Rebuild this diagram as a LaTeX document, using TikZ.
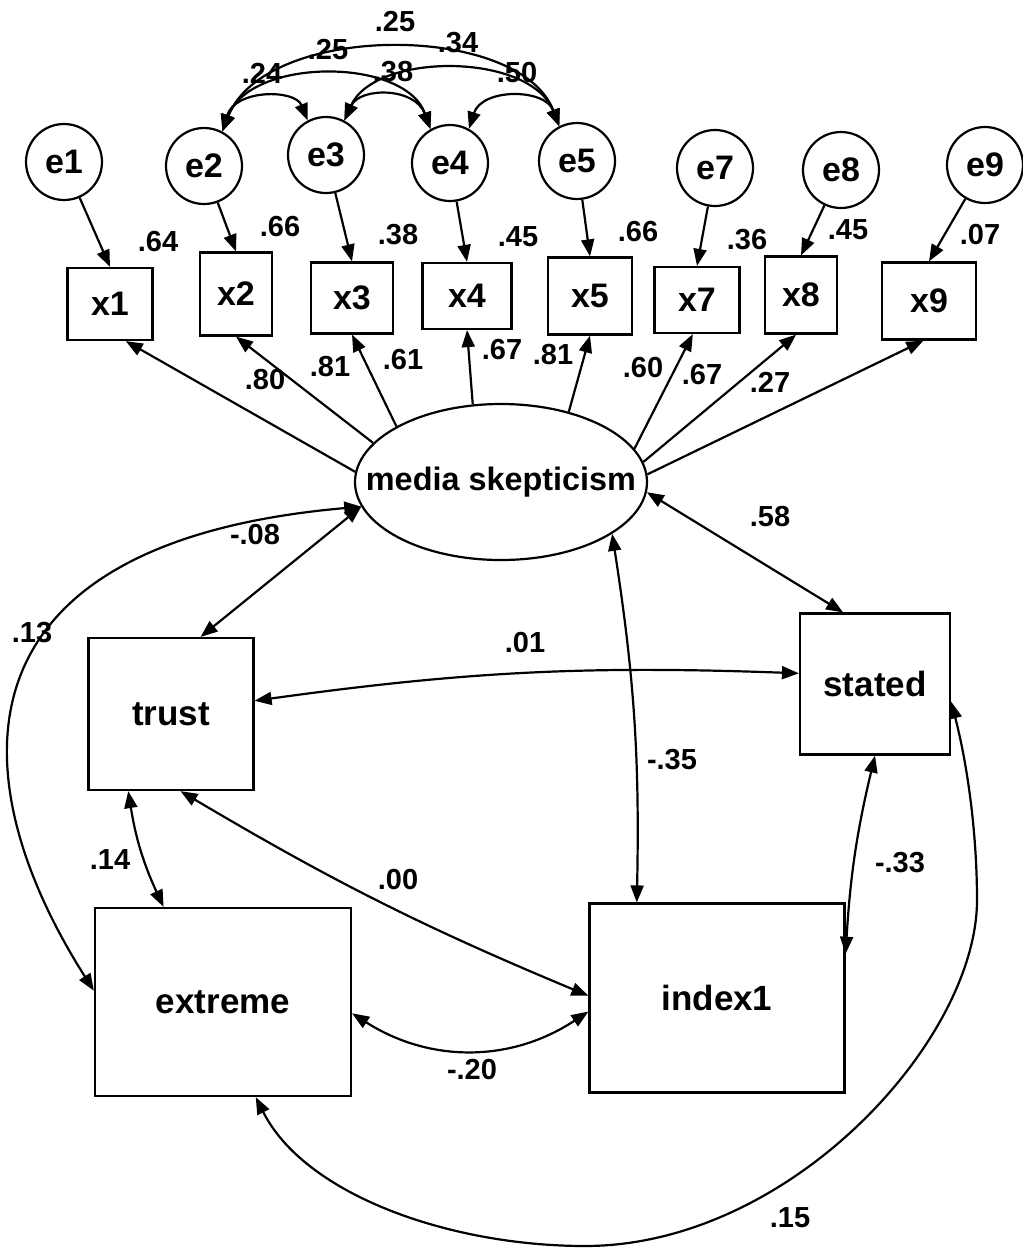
\documentclass[tikz,border=0pt]{standalone}
\usepackage{fontspec}
\setmainfont{Liberation Sans}
\usetikzlibrary{arrows.meta,shapes.geometric}
\begin{document}
\begin{tikzpicture}[x=0.5pt,y=-0.5pt, line width=1.1pt,
  >={Triangle[length=8.5pt,width=6.5pt]},
  err/.style={circle,draw,minimum size=38pt,inner sep=0pt,font=\fontsize{17}{19}\selectfont\bfseries},
  obs/.style={rectangle,draw,inner sep=0pt,font=\fontsize{17}{19}\selectfont\bfseries},
  bigbox/.style={rectangle,draw,inner sep=0pt,font=\fontsize{17.5}{20}\selectfont\bfseries},
  num/.style={inner sep=0pt,font=\fontsize{14.5}{16}\selectfont\bfseries},
  lat/.style={ellipse,draw,inner sep=0pt,minimum width=146pt,minimum height=78pt}]
\useasboundingbox[fill=white] (0,0) rectangle (1023,1249);

% error terms
\node[err] (e1) at (64,162) {e1};
\node[err] (e2) at (204,166) {e2};
\node[err] (e3) at (326,155) {e3};
\node[err] (e4) at (450,163) {e4};
\node[err] (e5) at (577,161) {e5};
\node[err] (e7) at (715,168) {e7};
\node[err] (e8) at (841,170) {e8};
\node[err] (e9) at (985,165) {e9};

% indicators
\node[obs,minimum width=42.5pt,minimum height=36pt] (x1) at (110,304) {x1};
\node[obs,minimum width=36pt,minimum height=41.5pt] (x2) at (236,294) {x2};
\node[obs,minimum width=41pt,minimum height=35.5pt] (x3) at (352,298) {x3};
\node[obs,minimum width=44.5pt,minimum height=33pt] (x4) at (467,296) {x4};
\node[obs,minimum width=42pt,minimum height=38.5pt] (x5) at (590,296) {x5};
\node[obs,minimum width=42.5pt,minimum height=33pt] (x7) at (697,300) {x7};
\node[obs,minimum width=36pt,minimum height=38.5pt] (x8) at (801,295) {x8};
\node[obs,minimum width=47pt,minimum height=38.5pt] (x9) at (929,301) {x9};

% latent
\node[lat,label={[inner sep=0pt,font=\fontsize{16.2}{18}\selectfont\bfseries]center:media skepticism}] (ms) at (501,482) {};

% observed
\node[bigbox,minimum width=82.5pt,minimum height=76pt] (trust) at (171,714) {trust};
\node[bigbox,minimum width=75pt,minimum height=70.5pt] (stated) at (875,684) {stated};
\node[bigbox,minimum width=128pt,minimum height=94pt] (extreme) at (223,1002) {extreme};
\node[bigbox,minimum width=127.5pt,minimum height=94.5pt] (index1) at (717,998) {index1};

% error paths
\draw[->] (e1) -- (x1.north);
\draw[->] (e2) -- (x2.north);
\draw[->] (e3) -- (x3.north);
\draw[->] (e4) -- (x4.north);
\draw[->] (e5) -- (x5.north);
\draw[->] (e7) -- (x7.north);
\draw[->] (e8) -- (x8.north);
\draw[->] (e9) -- (x9.north);

% error covariances
\draw[<->] (e2.62) .. controls (235,89) and (295,89) .. (e3.118);
\draw[<->] (e2.62) .. controls (250,57) and (405,57) .. (e4.120);
\draw[<->] (e2.62) .. controls (265,22) and (520,22) .. (e5.117);
\draw[<->] (e3.62) .. controls (360,87) and (415,87) .. (e4.120);
\draw[<->] (e3.62) .. controls (375,52) and (530,52) .. (e5.117);
\draw[<->] (e4.61) .. controls (482,88) and (545,88) .. (e5.117);

% loadings
\draw[->] (ms.176) -- (x1.-67);
\draw[->] (ms.163) -- (x2.south);
\draw[->] (ms.152) -- (x3.south);
\draw[->] (ms.110) -- (x4.south);
\draw[->] (ms.46) -- (x5.south);
\draw[->] (ms.14) -- (x7.-97);
\draw[->] (ms.8) -- (x8.-97);
\draw[->] (ms.3) -- (x9.-98);

% structural covariances
\draw[<->] (ms.190) -- (trust.69);
\draw[<->] (ms.190) .. controls (-55,543) and (-40,780) .. (extreme.175);
\draw[<->] (ms.-25) to[bend left=5] (index1.130);
\draw[<->] (ms.-4) -- (stated.114);
\draw[<->] (trust.9) to[bend left=5] (stated.172);
\draw[<->] (trust.-83) to[bend right=4] (index1.179);
\draw[<->] (trust.-119) to[bend right=8] (extreme.122);
\draw[<->] (extreme.-5) to[bend right=33] (index1.186);
\draw[<->] (stated.south) to[bend right=5] (index1.19);
\draw[<->] (stated.-13) .. controls (968,767) and (977,835) .. (977,900)
   .. controls (977,1040) and (790,1246) .. (585,1246)
   .. controls (450,1246) and (305,1195) .. (extreme.-71);

% covariance labels (errors)
\node[num] (c25a) at (395,22) {.25};
\node[num] (c25b) at (328,50) {.25};
\node[num] (c34) at (458,43) {.34};
\node[num] (c24) at (262,73) {.24};
\node[num] (c38) at (393,72) {.38};
\node[num] (c50) at (517,73) {.50};

% R-squared
\node[num] (r1) at (158,242) {.64};
\node[num] (r2) at (280,227) {.66};
\node[num] (r3) at (398,235) {.38};
\node[num] (r4) at (518,237) {.45};
\node[num] (r5) at (638,232) {.66};
\node[num] (r7) at (747,240) {.36};
\node[num] (r8) at (848,230) {.45};
\node[num] (r9) at (980,235) {.07};

% loadings labels
\node[num] (l1) at (265,380) {.80};
\node[num] (l2) at (330,367) {.81};
\node[num] (l3) at (403,360) {.61};
\node[num] (l4) at (502,350) {.67};
\node[num] (l5) at (553,355) {.81};
\node[num] (l7) at (643,368) {.60};
\node[num] (l8) at (702,375) {.67};
\node[num] (l9) at (770,382) {.27};

% structural labels
\node[num] (s1) at (255,535) {-.08};
\node[num] (s2) at (770,517) {.58};
\node[num] (s3) at (32,633) {.13};
\node[num] (s4) at (525,643) {.01};
\node[num] (s5) at (672,760) {-.35};
\node[num] (s6) at (110,860) {.14};
\node[num] (s7) at (398,880) {.00};
\node[num] (s8) at (900,863) {-.33};
\node[num] (s9) at (472,1070) {-.20};
\node[num] (s10) at (790,1218) {.15};
\end{tikzpicture}
\end{document}
